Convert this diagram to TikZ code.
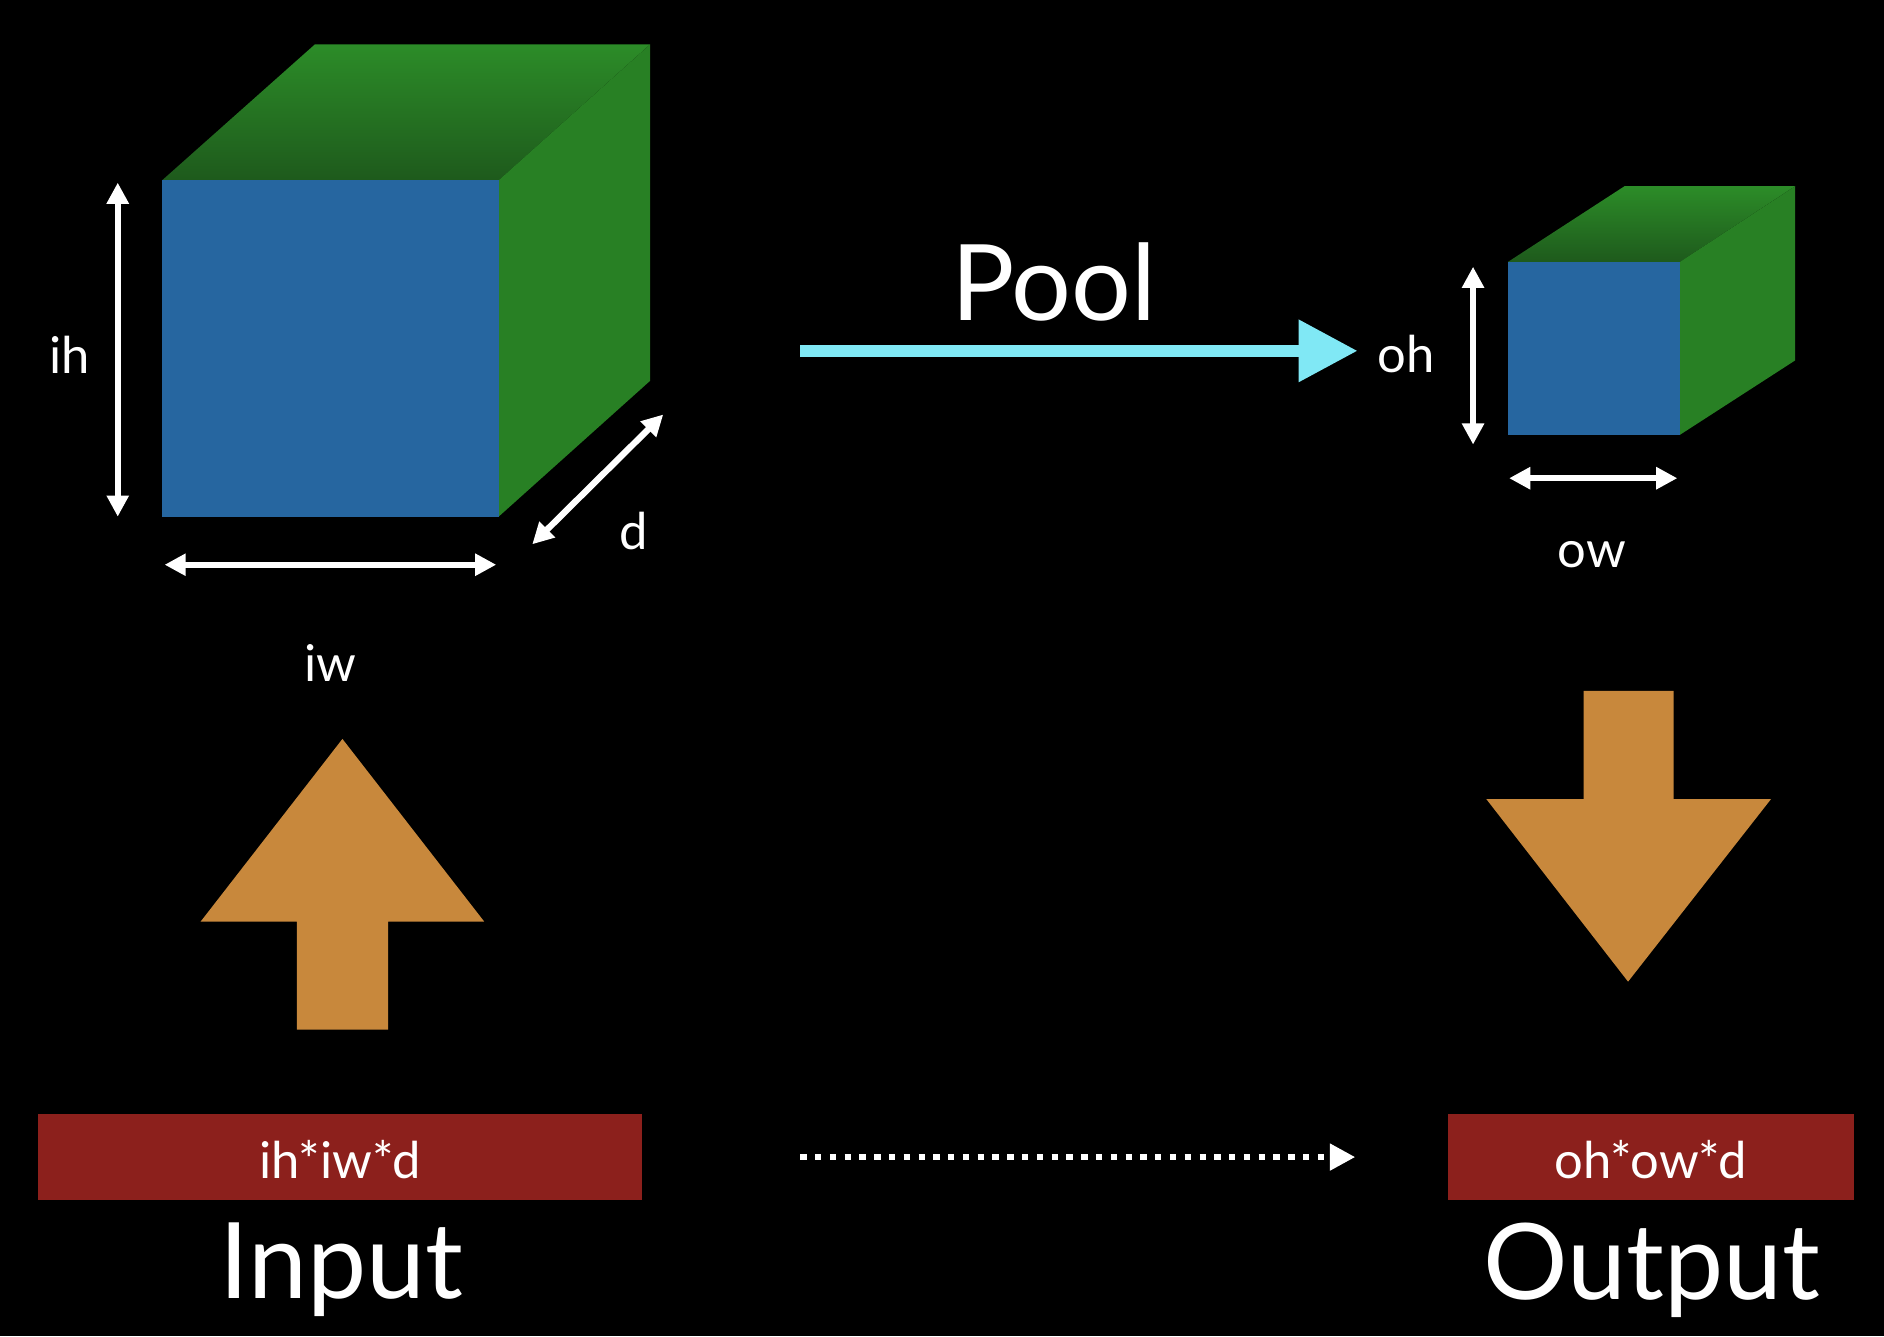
\documentclass[tikz,border=0pt]{standalone}
\usepackage{fontspec}
\setmainfont{Lato}
\usetikzlibrary{arrows.meta}
\definecolor{faceblue}{RGB}{38,102,160}
\definecolor{topgreen}{RGB}{44,140,40}
\definecolor{darkgreen}{RGB}{30,90,28}
\definecolor{sidegreen}{RGB}{40,128,36}
\definecolor{boxorange}{RGB}{200,136,60}
\definecolor{barred}{RGB}{140,32,28}
\definecolor{poolcyan}{RGB}{128,232,245}
\tikzset{
  dim/.style={white, line width=1.5pt, {Triangle[width=5pt,length=5pt]}-{Triangle[width=5pt,length=5pt]}},
  lbl/.style={white, font=\fontsize{12}{14}\selectfont},
  big/.style={white, font=\fontsize{25}{30}\selectfont},
  bar/.style={fill=barred, draw=none}
}
\begin{document}
\begin{tikzpicture}[x=0.01cm, y=-0.01cm]
	\fill[black] (0,0) rectangle (1568,1112);
	\useasboundingbox (0,0) rectangle (1568,1112);
	% input cube
	\shade[top color=topgreen, bottom color=darkgreen] (135,150) -- (262,37) -- (541,37) -- (415,150) -- cycle;
	\fill[sidegreen] (415,150) -- (541,37) -- (541,317) -- (415,430) -- cycle;
	\fill[faceblue] (135,150) rectangle (415,430);
	\coordinate (ihtop) at (98,152);
	\coordinate (ihbot) at (98,430);
	\coordinate (iwl) at (137,470);
	\coordinate (iwr) at (413,470);
	\coordinate (dlo) at (443,453);
	\coordinate (dhi) at (552,345);
	\draw[dim] (ihtop) -- (ihbot);
	\draw[dim] (iwl) -- (iwr);
	\draw[dim] (dlo) -- (dhi);
	\node[lbl] (ih) at (58,295) {ih};
	\node[lbl] (iw) at (275,552) {iw};
	\node[lbl] (d) at (527,442) {d};
	% output cube
	\shade[top color=topgreen, bottom color=darkgreen] (1255,218) -- (1352,155) -- (1494,155) -- (1398,218) -- cycle;
	\fill[sidegreen] (1398,218) -- (1494,155) -- (1494,300) -- (1398,362) -- cycle;
	\fill[faceblue] (1255,218) rectangle (1398,362);
	\coordinate (ohtop) at (1226,222);
	\coordinate (ohbot) at (1226,370);
	\coordinate (owl) at (1256,398);
	\coordinate (owr) at (1396,398);
	\draw[dim] (ohtop) -- (ohbot);
	\draw[dim] (owl) -- (owr);
	\node[lbl] (oh) at (1170,295) {oh};
	\node[lbl] (ow) at (1325,462) {ow};
	% pool arrow
	\coordinate (poolstart) at (666,292);
	\coordinate (poolend) at (1130,292);
	\draw[poolcyan, line width=3pt, -{Triangle[width=14pt,length=14pt]}] (poolstart) -- (poolend);
	\node[big] (pool) at (877,235) {Pool};
	% orange arrows
	\fill[boxorange] (247,857) -- (247,767) -- (167,767) -- (285,615) -- (403,767) -- (323,767) -- (323,857) -- cycle;
	\fill[boxorange] (1318,575) -- (1318,665) -- (1237,665) -- (1355,817) -- (1474,665) -- (1393,665) -- (1393,575) -- cycle;
	% bars
	\fill[bar] (32,927) rectangle (534,999);
	\node[lbl] (inbar) at (283,965) {ih*iw*d};
	\fill[bar] (1205,927) rectangle (1543,999);
	\node[lbl] (outbar) at (1374,965) {oh*ow*d};
	\coordinate (dotstart) at (666,963);
	\coordinate (dotend) at (1128,963);
	\draw[white, line width=1.5pt, dotted, -{Triangle[width=6pt,length=6pt]}] (dotstart) -- (dotend);
	\node[big] (input) at (284,1057) {Input};
	\node[big] (output) at (1375,1057) {Output};
\end{tikzpicture}
\end{document}
